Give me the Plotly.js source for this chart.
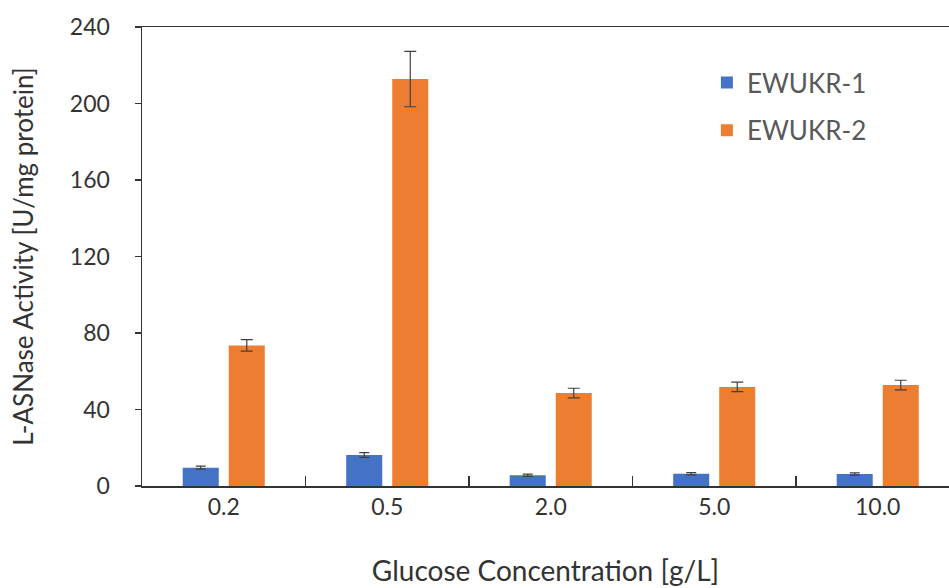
<!DOCTYPE html>
<html>
<head>
<meta charset="utf-8">
<script src="https://cdn.plot.ly/plotly-3.0.1.min.js"></script>
<style>html,body{margin:0;padding:0;background:#fff;}#chart{width:949px;height:588px;}</style>
</head>
<body>
<div id="chart"></div>
<script>
const categories = ["0.2", "0.5", "2.0", "5.0", "10.0"];
const ewukr1 = [9.6, 16.2, 5.6, 6.4, 6.3];
const ewukr1Err = [0.8, 1.2, 0.6, 0.6, 0.6];
const ewukr2 = [73.5, 212.8, 48.6, 51.8, 52.8];
const ewukr2Err = [3.0, 14.5, 2.5, 2.5, 2.5];
const yTicks = [0, 40, 80, 120, 160, 200, 240];

const FONT = "Lato, 'Open Sans', sans-serif";
const traces = [
  {
    type: "bar", name: "EWUKR-1", x: categories, y: ewukr1, legendgroup: "a",
    marker: {color: "#4472C4"},
    error_y: {type: "data", array: ewukr1Err, visible: true, color: "#404040", thickness: 1.2, width: 5}
  },
  {
    type: "bar", name: "EWUKR-2", x: categories, y: ewukr2, legendgroup: "b",
    marker: {color: "#ED7D31"},
    error_y: {type: "data", array: ewukr2Err, visible: true, color: "#404040", thickness: 1.2, width: 6}
  }
];

const layout = {
  width: 949, height: 588,
  margin: {l: 142, r: 0, t: 27, b: 102},
  paper_bgcolor: "#fff", plot_bgcolor: "#fff",
  font: {family: FONT, color: "#333"},
  barmode: "group",
  bargap: 0.437,
  bargroupgap: 0.217,
  showlegend: true,
  legend: {
    x: 0.70, y: 0.93, xanchor: "left", yanchor: "top",
    font: {family: FONT, size: 26, color: "#595959"},
    tracegroupgap: 11, traceorder: "grouped",
    bgcolor: "rgba(0,0,0,0)"
  },
  xaxis: {
    type: "category",
    range: [-0.5, 4.436],
    showline: true, linecolor: "#333", linewidth: 1.5, mirror: true,
    ticks: "inside", tickson: "boundaries", ticklen: 10, tickcolor: "#333", tickwidth: 1.5,
    tickfont: {family: FONT, size: 23, color: "#333"},
    showgrid: false, zeroline: false,
    title: {text: "Glucose Concentration [g/L]", font: {family: FONT, size: 28, color: "#333"}, standoff: 42},
    automargin: false
  },
  yaxis: {
    range: [0, 240],
    tickvals: yTicks, ticktext: yTicks.map(String),
    showline: true, linecolor: "#333", linewidth: 1.5,
    ticks: "outside", ticklen: 6, tickcolor: "#333", tickwidth: 1.5,
    tickfont: {family: FONT, size: 23, color: "#333"},
    ticklabelstandoff: 20,
    showgrid: false, zeroline: false,
    title: {text: "L-ASNase Activity [U/mg protein]", font: {family: FONT, size: 26, color: "#333"}, standoff: 29},
    automargin: false
  }
};

Plotly.newPlot("chart", traces, layout, {displayModeBar: false, staticPlot: true});
</script>
</body>
</html>
